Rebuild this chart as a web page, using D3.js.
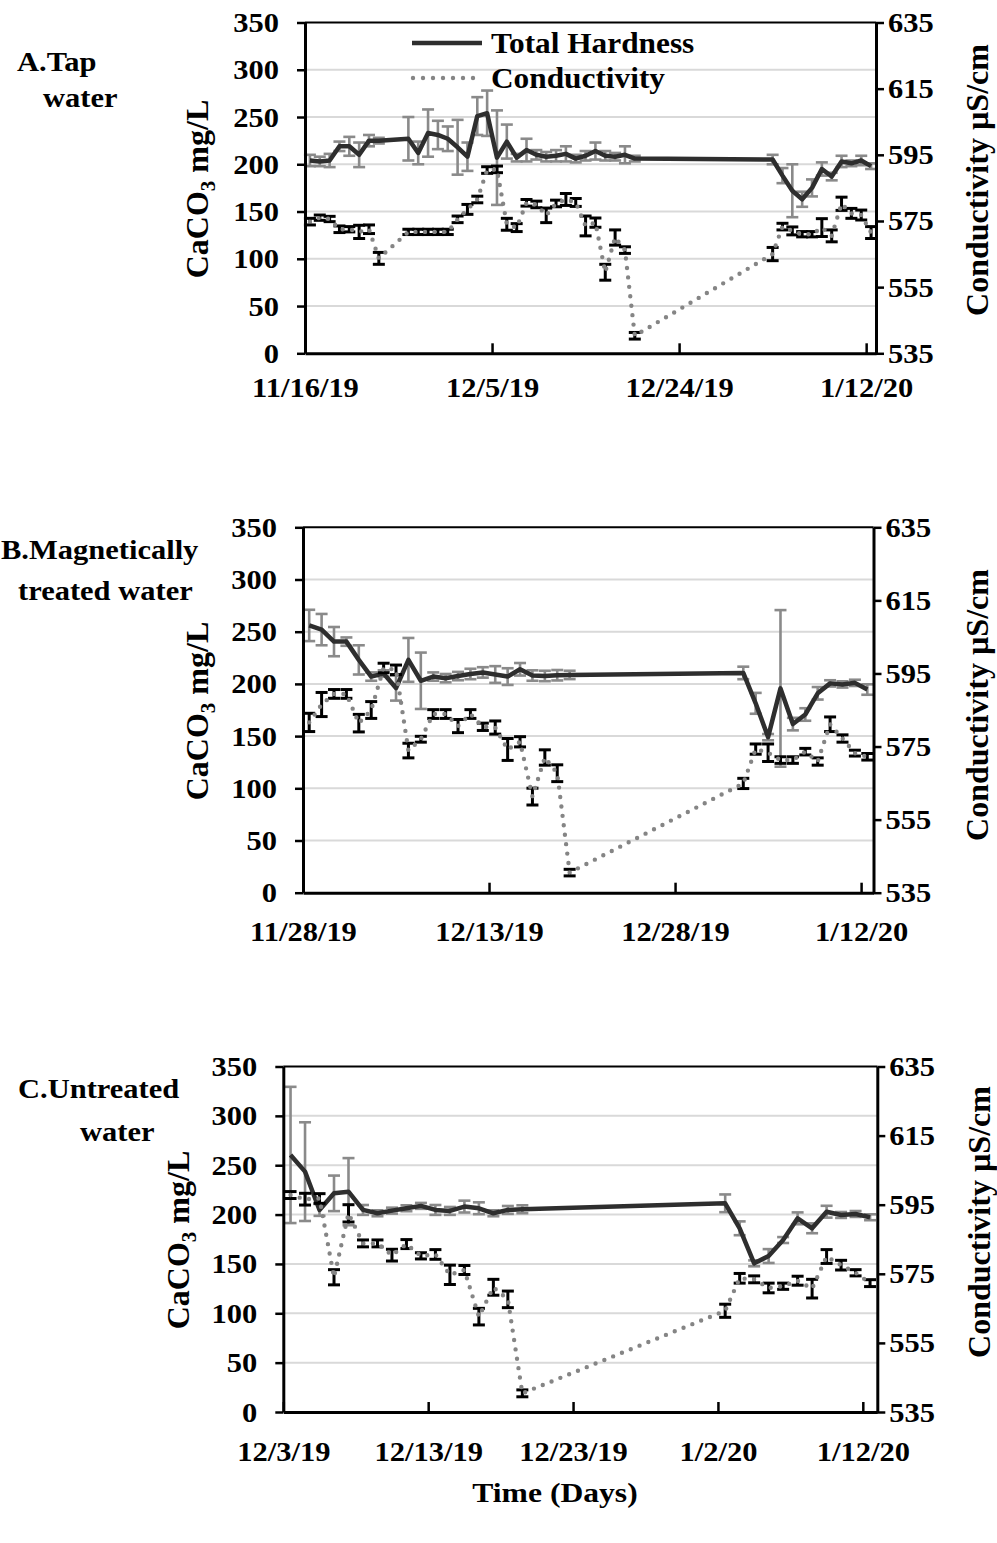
<!DOCTYPE html>
<html>
<head>
<meta charset="utf-8">
<script src="https://cdn.jsdelivr.net/npm/d3@7"></script>
<style>
  body { margin: 0; background: #fff; }
  svg text { font-family: "Liberation Serif", "Times New Roman", serif; font-weight: bold; fill: #000; }
</style>
</head>
<body>
<svg id="chart" width="997" height="1543"></svg>
<script>
// ---------- A. Tap water ----------
const tapDates = ["11/16/19","11/17/19","11/18/19","11/19/19","11/20/19","11/21/19","11/22/19","11/23/19",
  "11/26/19","11/27/19","11/28/19","11/29/19","11/30/19","12/1/19","12/2/19","12/3/19","12/4/19","12/5/19",
  "12/6/19","12/7/19","12/8/19","12/9/19","12/10/19","12/11/19","12/12/19","12/13/19","12/14/19","12/15/19",
  "12/16/19","12/17/19","12/18/19","12/19/19",
  "1/2/20","1/3/20","1/4/20","1/5/20","1/6/20","1/7/20","1/8/20","1/9/20","1/10/20","1/11/20","1/12/20"];
const tapHardness = [204,203,204,219,219,210,225,225,
  227,212,233,231,227,218,208,251,254,207,224,207,215,210,208,209,211,206,209,214,209,208,210,206,
  205,188,172,163,175,195,187,203,201,204,198];
const tapHardnessErr = [6,5,7,5,10,13,6,3,
  23,12,25,15,13,29,15,20,24,50,18,4,12,5,5,6,8,4,5,9,5,4,9,3,
  5,8,28,8,9,7,4,6,3,5,3];
const tapConductivity = [574.8,576,575.6,572.5,572.5,571.7,572.5,563.7,
  571.7,571.7,571.7,571.7,571.7,575.5,578.5,581.5,590.4,590.6,574,573,580.5,580,576.7,580.3,581.5,580.6,573.5,574.5,559.5,570,566.2,540.3,
  565,573.3,572,571,571,573,570.5,580.2,577.3,576.8,571.5];
const tapConductivityErr = [1,0.8,0.8,1,0.8,2,1.3,1.8,
  0.8,0.8,0.8,0.8,0.8,1,1.5,1,1,1,1.8,1.2,1,1,2.2,1,1.8,1.2,3,1.4,2.4,2.3,1,1,
  2,1,1.2,0.8,0.8,2.7,1.8,2,1.5,1.5,1.8];
const tapTicks = ["11/16/19","12/5/19","12/24/19","1/12/20"];

// ---------- B. Magnetically treated water ----------
const magDates = ["11/28/19","11/29/19","11/30/19","12/1/19","12/2/19","12/3/19","12/4/19","12/5/19",
  "12/6/19","12/7/19","12/8/19","12/9/19","12/10/19","12/11/19","12/12/19","12/13/19","12/14/19","12/15/19",
  "12/16/19","12/17/19","12/18/19","12/19/19",
  "1/2/20","1/3/20","1/4/20","1/5/20","1/6/20","1/7/20","1/8/20","1/9/20","1/10/20","1/11/20","1/12/20"];
const magHardness = [256,252,240.5,240.5,223,207,210,196,223,203,207,205.5,207.5,209.5,211,209,207,214,208,207.6,208.3,208.6,
  210.5,181.4,149,195.7,161.5,170.7,191,200.5,199.5,201,194.6];
const magHardnessErr = [15,15,14,4,14,4,3,12,21,27,4,4,4,5,5,8,8,6,5,5,5,4,
  6,10,3,75,6,6,6,3,3,3,5];
const magConductivity = [581.6,586.5,589.4,589.4,581.4,585,596.5,596,573.9,577,583.9,583.9,580.6,583.9,580.4,580.2,574.2,576.3,561.3,572,567.7,540.5,
  564.9,574.3,573.3,571.3,571.3,573.6,570.9,581.1,577.2,573.2,572.2];
const magConductivityErr = [2.5,3.3,1.2,1.2,2.4,2.3,1.3,1.3,2,0.8,1.2,1.2,1.8,1.2,1,1.8,3,1.4,2.3,2.1,2.3,0.9,
  1.4,1.4,2.4,0.9,0.9,0.9,1,2,1,0.8,0.9];
const magTicks = ["11/28/19","12/13/19","12/28/19","1/12/20"];

// ---------- C. Untreated water ----------
const untDates = ["12/3/19","12/4/19","12/5/19","12/6/19","12/7/19","12/8/19","12/9/19","12/10/19","12/11/19",
  "12/12/19","12/13/19","12/14/19","12/15/19","12/16/19","12/17/19","12/18/19","12/19/19",
  "1/2/20","1/3/20","1/4/20","1/5/20","1/6/20","1/7/20","1/8/20","1/9/20","1/10/20","1/11/20","1/12/20"];
const untHardness = [260.4,243.5,204.7,221.5,223.2,204.7,201.3,204,206.4,208.8,204.7,203.7,208.1,206.4,201.3,204.7,205.4,
  211.4,186.1,150.6,158,174.2,196.2,186.1,202.9,199.6,200.6,197.3];
const untHardnessErr = [69,50,6,18,34,5,3,3,3,3,5,4,6,6,3,4,4,
  9,7,3,7,3,6,5,6,3,3,3];
const untConductivity = [597.8,596.6,596.8,574,592.5,583.8,583.8,580.4,583.6,580.2,580.6,574.7,576.1,562.6,571.1,567.6,540.4,
  564.3,573.7,573.4,570.9,571.4,573,570.7,580,577.5,575.3,572.3];
const untConductivityErr = [1,1.7,1.4,2.2,2.5,1,1,1.7,1.3,0.9,1.4,2.8,1.3,2.4,2.3,2.4,1,
  1.9,1.4,1,1.4,0.9,1.3,2.7,2,1.4,0.9,1];
const untTicks = ["12/3/19","12/13/19","12/23/19","1/2/20","1/12/20"];

// ---------- shared axis values ----------
const hardnessTicks = [0,50,100,150,200,250,300,350];
const conductivityTicks = [535,555,575,595,615,635];
const axisEnd = "1/13/20";

const svg = d3.select("#chart");
const parse = d3.utcParse("%m/%d/%y");
const HALF_DAY = 12 * 3600 * 1000;
const SX = 1.13;            // horizontal glyph stretch used for all upright text
const TICK_FS = 27;

function stext(parent, x, y, str, size, anchor, sx = SX) {
  return parent.append("text")
    .attr("transform", `translate(${x},${y}) scale(${sx},1)`)
    .attr("text-anchor", anchor)
    .attr("font-size", size)
    .text(str);
}

function rotatedTitle(parent, x, y, size, build) {
  const t = parent.append("text")
    .attr("transform", `translate(${x},${y}) rotate(-90)`)
    .attr("text-anchor", "middle")
    .attr("dy", "0.35em")
    .attr("font-size", size);
  build(t);
  return t;
}

function errorBars(g, xs, vals, errs, y, color, width, capHalf) {
  const rows = vals.map((v, i) => ({ x: xs[i], lo: y(v - errs[i]), hi: y(v + errs[i]) }));
  const eb = g.append("g").attr("stroke", color).attr("stroke-width", width).attr("fill", "none");
  eb.selectAll("line.stem").data(rows).join("line")
    .attr("x1", d => d.x).attr("x2", d => d.x).attr("y1", d => d.lo).attr("y2", d => d.hi);
  eb.selectAll("line.top").data(rows).join("line")
    .attr("x1", d => d.x - capHalf).attr("x2", d => d.x + capHalf).attr("y1", d => d.hi).attr("y2", d => d.hi);
  eb.selectAll("line.bot").data(rows).join("line")
    .attr("x1", d => d.x - capHalf).attr("x2", d => d.x + capHalf).attr("y1", d => d.lo).attr("y2", d => d.lo);
}

function drawPanel(p) {
  const g = svg.append("g");
  const x = d3.scaleUtc().domain([parse(p.start), parse(axisEnd)]).range([p.left, p.right]);
  const yL = d3.scaleLinear().domain([0, 350]).range([p.bottom, p.top]);
  const yR = d3.scaleLinear().domain([535, 635]).range([p.bottom, p.top]);
  // each day occupies one slot on the date axis; points sit in the middle of it
  const xs = p.dates.map(s => x(new Date(parse(s).getTime() + HALF_DAY)));

  // gridlines
  g.append("g").selectAll("line").data(hardnessTicks.filter(v => v > 0 && v < 350)).join("line")
    .attr("x1", p.left).attr("x2", p.right)
    .attr("y1", d => yL(d)).attr("y2", d => yL(d))
    .attr("stroke", "#d9d9d9").attr("stroke-width", 2);

  // total hardness
  errorBars(g, xs, p.hardness, p.hardnessErr, yL, "#8a8a8a", 2.6, 6);
  const hLine = d3.line().x((d, i) => xs[i]).y(d => yL(d));
  g.append("path").datum(p.hardness).attr("d", hLine)
    .attr("fill", "none").attr("stroke", "#2e2e2e").attr("stroke-width", 4.5)
    .attr("stroke-linejoin", "round");

  // conductivity
  errorBars(g, xs, p.conductivity, p.conductivityErr, yR, "#000", 3, 6);
  const cLine = d3.line().x((d, i) => xs[i]).y(d => yR(d));
  g.append("path").datum(p.conductivity).attr("d", cLine)
    .attr("fill", "none").attr("stroke", "#858585").attr("stroke-width", 4.4)
    .attr("stroke-linecap", "round").attr("stroke-dasharray", "0,9.5");

  // frame top
  g.append("line").attr("x1", p.left).attr("x2", p.right).attr("y1", p.top).attr("y2", p.top)
    .attr("stroke", "#000").attr("stroke-width", 2);

  // left axis
  const ax = g.append("g").attr("transform", `translate(${p.left},0)`)
    .call(d3.axisLeft(yL).tickValues(hardnessTicks).tickSizeInner(8).tickSizeOuter(0).tickFormat(d3.format("d")));
  // right axis
  const ar = g.append("g").attr("transform", `translate(${p.right},0)`)
    .call(d3.axisRight(yR).tickValues(conductivityTicks).tickSizeInner(8).tickSizeOuter(0).tickFormat(d3.format("d")));
  // bottom axis, ticks pointing into the plot
  const ab = g.append("g").attr("transform", `translate(0,${p.bottom})`)
    .call(d3.axisBottom(x).tickValues(p.ticks.map(parse)).tickSizeInner(-10).tickSizeOuter(0)
      .tickFormat((d, i) => p.ticks[i]));

  [ax, ar, ab].forEach(a => {
    a.select(".domain").attr("stroke", "#000").attr("stroke-width", 3);
    a.selectAll(".tick line").attr("stroke", "#000").attr("stroke-width", 2.5);
    a.selectAll("text").attr("font-size", TICK_FS).attr("font-family", null).attr("fill", "#000");
  });
  ax.selectAll("text").attr("x", null).attr("dy", null)
    .attr("transform", `translate(-26,9) scale(${SX},1)`).attr("text-anchor", "end");
  ar.selectAll("text").attr("x", null).attr("dy", null)
    .attr("transform", `translate(12,9) scale(${SX},1)`).attr("text-anchor", "start");
  ab.selectAll("text").attr("y", null).attr("dy", null)
    .attr("transform", `translate(0,${p.labelY}) scale(${SX},1)`).attr("text-anchor", "middle");

  // axis titles
  rotatedTitle(g, p.leftTitleX, p.leftTitleY, 32, t => {
    t.append("tspan").text("CaCO");
    t.append("tspan").attr("font-size", 21).attr("dy", 7).text("3");
    t.append("tspan").attr("dy", -7).text(" mg/L");
  });
  rotatedTitle(g, p.rightTitleX, p.rightTitleY, 32, t => t.text("Conductivity µS/cm"));

  // panel name
  p.name.forEach(n => stext(svg, n.x, n.y, n.text, 27, "start"));
  return g;
}

const gA = drawPanel({
  dates: tapDates, hardness: tapHardness, hardnessErr: tapHardnessErr,
  conductivity: tapConductivity, conductivityErr: tapConductivityErr, ticks: tapTicks,
  start: "11/16/19", left: 305, right: 876, top: 22.5, bottom: 353.3, labelY: 44,
  leftTitleX: 197, leftTitleY: 189, rightTitleX: 977, rightTitleY: 180,
  name: [{ x: 17, y: 71, text: "A.Tap" }, { x: 43, y: 107, text: "water" }]
});
drawPanel({
  dates: magDates, hardness: magHardness, hardnessErr: magHardnessErr,
  conductivity: magConductivity, conductivityErr: magConductivityErr, ticks: magTicks,
  start: "11/28/19", left: 303, right: 873.5, top: 527.3, bottom: 892.7, labelY: 48,
  leftTitleX: 197, leftTitleY: 711, rightTitleX: 977, rightTitleY: 705,
  name: [{ x: 1, y: 559, text: "B.Magnetically" }, { x: 18, y: 600, text: "treated water" }]
});
drawPanel({
  dates: untDates, hardness: untHardness, hardnessErr: untHardnessErr,
  conductivity: untConductivity, conductivityErr: untConductivityErr, ticks: untTicks,
  start: "12/3/19", left: 283.3, right: 877.3, top: 1066.5, bottom: 1412, labelY: 49,
  leftTitleX: 178, leftTitleY: 1240, rightTitleX: 979, rightTitleY: 1222,
  name: [{ x: 18, y: 1098, text: "C.Untreated" }, { x: 80, y: 1141, text: "water" }]
});

// legend (panel A)
const lg = gA.append("g");
lg.append("line").attr("x1", 412).attr("x2", 482).attr("y1", 43).attr("y2", 43)
  .attr("stroke", "#2e2e2e").attr("stroke-width", 4.5);
lg.append("line").attr("x1", 413).attr("x2", 482).attr("y1", 78).attr("y2", 78)
  .attr("stroke", "#858585").attr("stroke-width", 4.4).attr("stroke-linecap", "round").attr("stroke-dasharray", "0,10");
stext(lg, 491, 53, "Total Hardness", 29, "start", 1.08);
stext(lg, 491, 88, "Conductivity", 29, "start", 1.08);

// shared x-axis title
stext(svg, 555, 1502, "Time (Days)", 28, "middle");
</script>
</body>
</html>
